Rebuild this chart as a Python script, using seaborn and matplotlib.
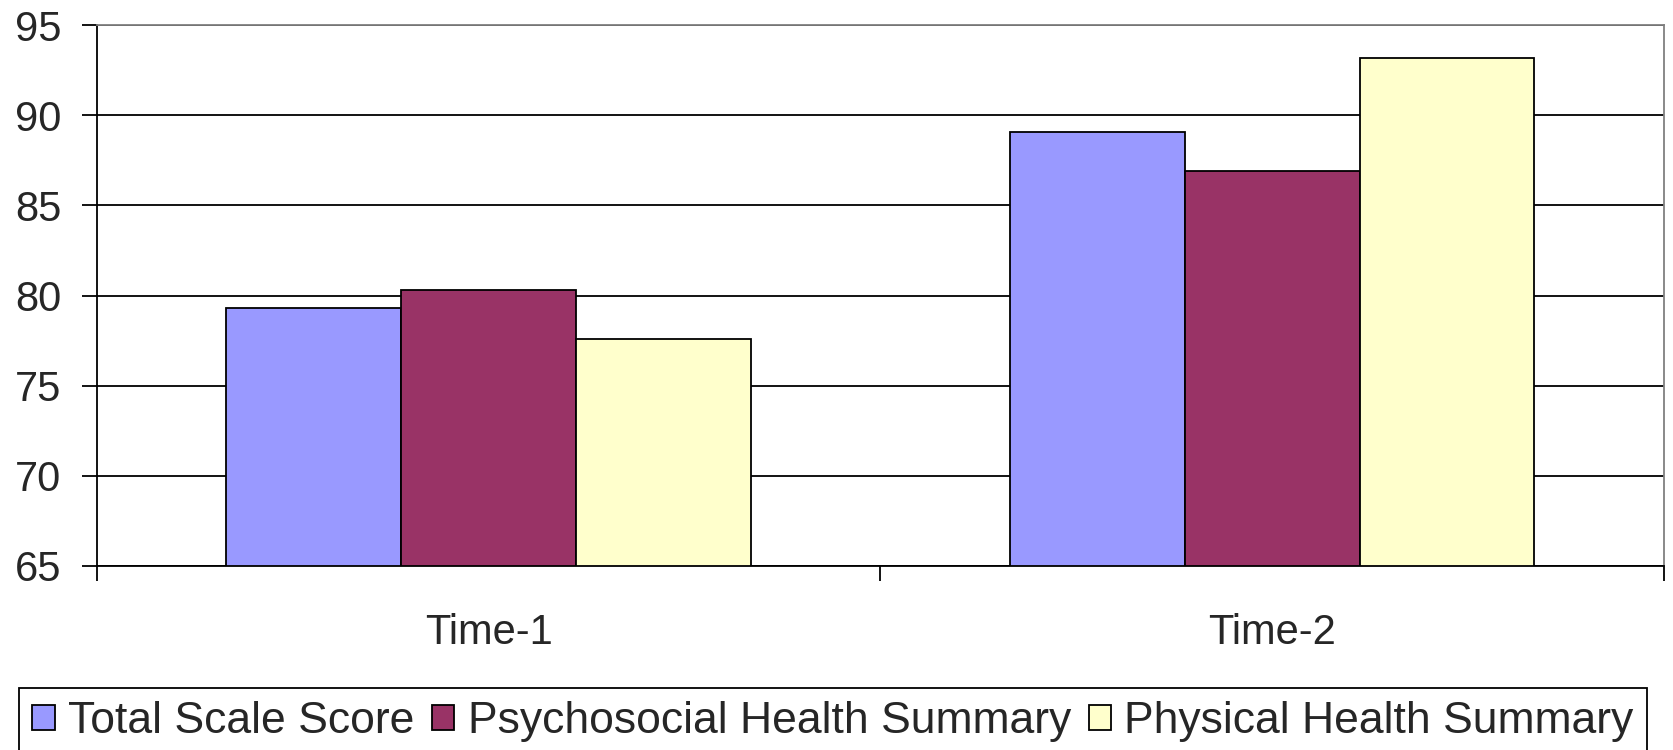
import matplotlib
matplotlib.use("Agg")
import matplotlib.pyplot as plt
import seaborn as sns
import pandas as pd
from matplotlib.patches import Patch
from matplotlib.ticker import FixedLocator

# Scores at each time point
times = ["Time-1", "Time-2"]
series = ["Total Scale Score", "Psychosocial Health Summary", "Physical Health Summary"]
total_scale = [79.3, 89.1]
psychosocial = [80.3, 86.9]
physical = [77.6, 93.2]
colors = ["#9999FF", "#993366", "#FFFFCC"]

rows = []
for name, vals in zip(series, [total_scale, psychosocial, physical]):
    for t, v in zip(times, vals):
        rows.append({"Time": t, "Measure": name, "Score": v})
df = pd.DataFrame(rows)

sns.set_theme(style="white")
plt.rcParams["font.family"] = ["Liberation Sans", "DejaVu Sans"]

fig = plt.figure(figsize=(16.73, 7.5), dpi=100)
ax = fig.add_axes([96.7 / 1673, 1 - 565.7 / 750, (1664 - 96.7) / 1673, (565.7 - 25.3) / 750])

sns.barplot(data=df, x="Time", y="Score", hue="Measure", order=times,
            hue_order=series, palette=colors, width=0.669, gap=0,
            edgecolor="black", linewidth=1.3, saturation=1, ax=ax, legend=False)

ax.set_xlim(-0.5, 1.5)
ax.set_ylim(65, 95)
ax.set_yticks(range(65, 96, 5))
ax.set_xlabel("")
ax.set_ylabel("")

ax.set_axisbelow(True)
ax.yaxis.grid(True, color="black", linewidth=1.3)
ax.xaxis.grid(False)

for side in ["left", "bottom"]:
    ax.spines[side].set_color("black")
    ax.spines[side].set_linewidth(1.3)
for side in ["top", "right"]:
    ax.spines[side].set_color("#808080")
    ax.spines[side].set_linewidth(1.3)

ax.tick_params(axis="y", which="major", direction="out", length=10.6, width=1.3,
               color="black", labelsize=30, pad=15, left=True)
ax.tick_params(axis="x", which="major", length=0, labelsize=30, pad=34)
ax.xaxis.set_minor_locator(FixedLocator([-0.5, 0.5, 1.5]))
ax.tick_params(axis="x", which="minor", direction="out", length=10.5, width=1.3,
               color="black", bottom=True)

handles = [Patch(facecolor=c, edgecolor="black", linewidth=1.3) for c in colors]
leg = fig.legend(handles, series, loc="upper left",
                 bbox_to_anchor=(19 / 1673, 1 - 688 / 750), ncol=3,
                 fontsize=32, frameon=True, fancybox=False, framealpha=1,
                 edgecolor="black", handlelength=0.5, handleheight=0.5,
                 handletextpad=0.3, columnspacing=0.4, borderpad=0.3,
                 borderaxespad=0)
leg.get_frame().set_linewidth(1.3)

fig.savefig("out.png", dpi=100)
